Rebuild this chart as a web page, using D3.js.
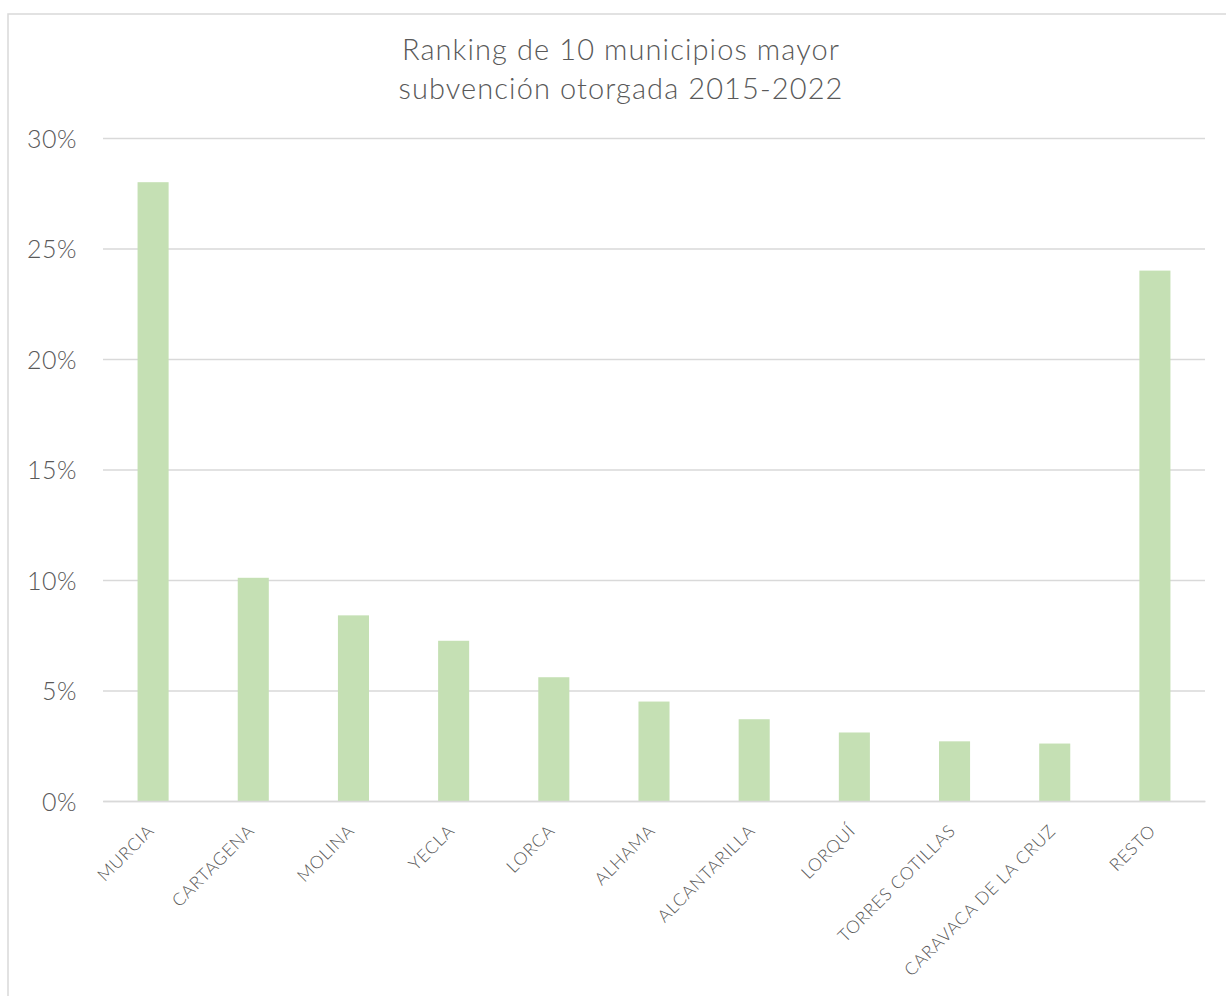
<!DOCTYPE html>
<html>
<head>
<meta charset="utf-8">
<script src="https://cdn.jsdelivr.net/npm/d3@7"></script>
<style>
  body { margin: 0; background: #fff; }
  svg { font-family: Lato, "Noto Sans", sans-serif; }
</style>
</head>
<body>
<div id="chart"></div>
<script>
// datos
var municipios = ["MURCIA", "CARTAGENA", "MOLINA", "YECLA", "LORCA", "ALHAMA",
    "ALCANTARILLA", "LORQUÍ", "TORRES COTILLAS", "CARAVACA DE LA CRUZ", "RESTO"];
var porcentajes = [28.0, 10.1, 8.4, 7.25, 5.6, 4.5, 3.7, 3.1, 2.7, 2.6, 24.0];
var ticks_y = [0, 5, 10, 15, 20, 25, 30];
var titulo = ["Ranking de 10 municipios mayor", "subvención otorgada 2015-2022"];

var W = 1226, H = 996;
var margin = { left: 103, right: 21, top: 138, bottom: 195 };
var fuente = "Lato, 'Noto Sans', sans-serif";

var svg = d3.select("#chart").append("svg")
    .attr("width", W)
    .attr("height", H);

// marco
svg.append("rect")
    .attr("x", 8).attr("y", 14)
    .attr("width", W + 10).attr("height", H + 10)
    .attr("fill", "none")
    .attr("stroke", "#d9d9d9")
    .attr("stroke-width", 1.5);

var x = d3.scaleBand()
    .domain(municipios)
    .range([margin.left, W - margin.right])
    .paddingInner(0.69)
    .paddingOuter(0.345);

var y = d3.scaleLinear()
    .domain([0, 30])
    .range([H - margin.bottom, margin.top]);

// lineas de cuadricula
var yAxis = svg.append("g")
    .attr("transform", "translate(" + margin.left + ",0)")
    .call(d3.axisLeft(y).tickValues(ticks_y)
        .tickSize(-(W - margin.left - margin.right))
        .tickPadding(26)
        .tickFormat(d => d + "%"))
    .attr("font-family", fuente);
yAxis.select(".domain").remove();
yAxis.selectAll(".tick line")
    .attr("stroke", "#d9d9d9")
    .attr("stroke-width", 1.5);
yAxis.selectAll(".tick text")
    .attr("fill", "#595959")
    .attr("font-size", 25)
    .attr("font-weight", 300)
    .attr("letter-spacing", 0.5)
    .attr("dy", "0.36em");

// barras
svg.append("g")
    .selectAll("rect")
    .data(porcentajes)
    .join("rect")
    .attr("x", (d, i) => x(municipios[i]))
    .attr("y", d => y(d))
    .attr("width", x.bandwidth())
    .attr("height", d => y(0) - y(d))
    .attr("fill", "#c5e0b4");

// eje x
var xAxis = svg.append("g")
    .attr("transform", "translate(0," + (H - margin.bottom) + ")")
    .call(d3.axisBottom(x).tickSize(0).tickPadding(0))
    .attr("font-family", fuente);
xAxis.select(".domain")
    .attr("stroke", "#d9d9d9")
    .attr("stroke-width", 1.5);
xAxis.selectAll(".tick text")
    .attr("fill", "#595959")
    .attr("font-size", 17.5)
    .attr("font-weight", 300)
    .attr("letter-spacing", 0.7)
    .attr("text-anchor", "end")
    .attr("dy", 0)
    .attr("transform", "translate(2,31) rotate(-45)");

// titulo
svg.append("text")
    .attr("x", 621)
    .attr("y", 60)
    .attr("text-anchor", "middle")
    .attr("fill", "#595959")
    .attr("font-size", 29)
    .attr("font-weight", 300)
    .attr("letter-spacing", 1.1)
    .selectAll("tspan")
    .data(titulo)
    .join("tspan")
    .attr("x", 621)
    .attr("dy", (d, i) => i === 0 ? 0 : 39)
    .text(d => d);
</script>
</body>
</html>
